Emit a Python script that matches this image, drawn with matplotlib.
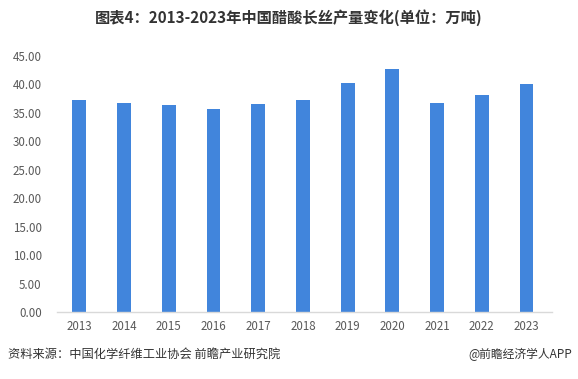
import matplotlib
matplotlib.use("Agg")
import matplotlib.pyplot as plt

plt.rcParams['font.family'] = ['Noto Sans CJK SC', 'DejaVu Sans']

years = ["2013", "2014", "2015", "2016", "2017", "2018", "2019", "2020", "2021", "2022", "2023"]
values = [37.2, 36.8, 36.3, 35.6, 36.5, 37.2, 40.2, 42.8, 36.8, 38.2, 40.0]
yticks = [0, 5, 10, 15, 20, 25, 30, 35, 40, 45]

fig = plt.figure(figsize=(5.78, 3.79), dpi=100)
ax = fig.add_axes([57/578, 67/379, 495/578, 256/379])
x = list(range(len(years)))
ax.bar(x, values, width=0.31, color='#4185dc')
ax.set_xlim(-0.5, 10.57)
ax.set_ylim(0, 45)
ax.set_yticks(yticks)
ax.set_yticklabels([f"{v:.2f}" for v in yticks], fontsize=8.3, color='#595959')
ax.set_xticks(x)
ax.set_xticklabels(years, fontsize=8.3, color='#595959')
ax.tick_params(axis='x', length=0, pad=6)
ax.tick_params(axis='y', length=0, pad=11)
for s in ['top', 'right', 'left']:
    ax.spines[s].set_visible(False)
ax.spines['bottom'].set_color('#d9d9d9')
ax.spines['bottom'].set_linewidth(1)

fig.text(0.5, 1 - 18/379, "图表4：2013-2023年中国醋酸长丝产量变化(单位：万吨)",
         ha='center', va='center', fontsize=11, fontweight='bold', color='#333333')
fig.text(8/578, 1 - 354/379, "资料来源：中国化学纤维工业协会 前瞻产业研究院",
         ha='left', va='center', fontsize=8.8, color='#333333')
fig.text(572/578, 1 - 354/379, "@前瞻经济学人APP",
         ha='right', va='center', fontsize=8.5, color='#333333')

fig.savefig("out.png", dpi=100)
